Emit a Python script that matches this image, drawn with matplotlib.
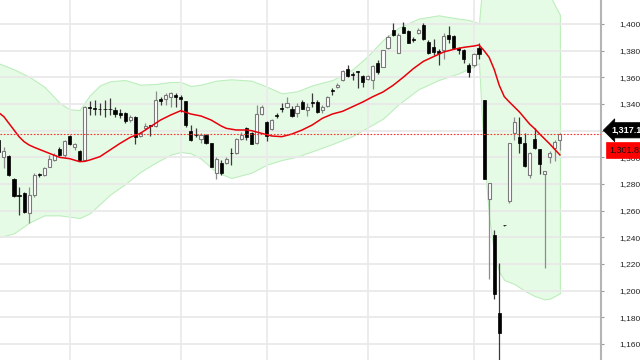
import numpy as np
import matplotlib
matplotlib.use("Agg")
import matplotlib.pyplot as plt
from matplotlib import transforms
from matplotlib.ticker import FuncFormatter, MultipleLocator

plt.rcParams["font.family"] = ["Liberation Sans", "DejaVu Sans"]

# daily candles, left to right
opens = [1313, 1300, 1301, 1284, 1271, 1273, 1258, 1272, 1287, 1287,
         1293, 1298, 1306, 1302, 1316, 1308, 1305, 1298, 1337.3, 1337,
         1336.2, 1336.3, 1336.3, 1335.5, 1333, 1333, 1328, 1330, 1316, 1322,
         1323.6, 1323.5, 1344, 1343.5, 1345, 1347, 1345.5, 1342, 1320, 1317,
         1314, 1317, 1310.5, 1288, 1296, 1296, 1303.2, 1303, 1313.5, 1322,
         1318, 1310.5, 1332.5, 1326.5, 1321, 1331.2, 1336.8, 1338, 1336.5, 1333.5,
         1341.5, 1335.5, 1341.2, 1341.5, 1335.5, 1338.5, 1350, 1352.5, 1358, 1366,
         1362.2, 1364.2, 1361, 1358.5, 1358, 1370.5, 1368, 1382, 1395.5, 1378.5,
         1397.5, 1395, 1388.2, 1393, 1399.25, 1386.75, 1382.5, 1380, 1380.5, 1391.5,
         1391, 1381.75, 1380.5, 1369, 1369, 1381.75, 1343, 1269, 1241.75, 1183,
         1249.2, 1267.5, 1318.5, 1315, 1310.5, 1286.75, 1313.5, 1306, 1287.5, 1300.5,
         1306.75, 1313]
highs = [1316, 1307.5, 1302, 1284.25, 1278, 1274.25, 1278, 1288, 1288, 1293,
         1301.75, 1303, 1307.5, 1313, 1316.75, 1310.5, 1305.5, 1338.5, 1342, 1343,
         1340.5, 1343, 1344.25, 1338, 1336, 1334.25, 1331.75, 1331, 1319.25, 1325.5,
         1324.25, 1350, 1345.5, 1348.5, 1349.25, 1348, 1346.75, 1342.5, 1324.25, 1321.75,
         1318, 1317.5, 1311, 1300.5, 1298, 1300.5, 1306.75, 1314.25, 1319.25, 1322.5,
         1319.25, 1339.25, 1339.25, 1327.5, 1328.5, 1333, 1341, 1345.5, 1338.5, 1340.5,
         1343, 1340.5, 1348, 1343, 1339.25, 1346, 1352, 1355.5, 1365.5, 1369.25,
         1364.25, 1365, 1361.75, 1361.75, 1369.25, 1373, 1380.5, 1391.75, 1400.5, 1393,
         1401.75, 1395.5, 1390.5, 1396.75, 1400.5, 1388, 1388.5, 1381, 1393, 1398.5,
         1391.75, 1383, 1381, 1370.5, 1378, 1385.5, 1343, 1281, 1245.5, 1220.5,
         1249.5, 1310.5, 1330, 1330, 1318.5, 1304.25, 1321.75, 1306, 1290, 1305,
         1313, 1318.5]
lows = [1302, 1292, 1286, 1270.5, 1257, 1258, 1250.5, 1270.5, 1285.5, 1286,
        1292.5, 1297.5, 1301, 1300.5, 1309.25, 1305.5, 1297.5, 1297.5, 1331.75, 1331.75,
        1331.75, 1330.5, 1331.75, 1330.5, 1329.25, 1325.5, 1326.75, 1310, 1315, 1320.5,
        1316, 1323, 1339.25, 1339.25, 1338, 1338, 1334.25, 1323, 1312.5, 1315,
        1310.5, 1310, 1292.5, 1283.5, 1286.75, 1295, 1294.25, 1302.5, 1313, 1313,
        1310, 1310, 1331.75, 1312.5, 1320.5, 1329.25, 1334.25, 1336.75, 1330, 1330.5,
        1336, 1331, 1338, 1333.5, 1333.5, 1338, 1347, 1351.75, 1357.5, 1360.5,
        1358, 1351.75, 1352.5, 1358, 1351, 1362.5, 1367.5, 1381, 1391, 1378,
        1393, 1385.5, 1386.75, 1392.5, 1388, 1377.5, 1376.75, 1369.25, 1373.5, 1385.5,
        1381, 1377.5, 1370.5, 1360, 1368, 1374, 1283.5, 1208.5, 1193.5, 1140,
        1248.5, 1265.5, 1313, 1303.5, 1293, 1284.25, 1306, 1287.5, 1216.75, 1296,
        1297.5, 1305.5]
closes = [1304, 1305, 1287, 1271, 1271, 1259, 1272, 1287, 1287, 1292,
          1299, 1302, 1302, 1312, 1310, 1310, 1298, 1338, 1337, 1336,
          1336, 1336, 1336, 1332.5, 1332, 1327, 1330.5, 1315, 1318, 1323.5,
          1323.4, 1343, 1342.5, 1347, 1348.5, 1345.5, 1343.5, 1324, 1313, 1316.5,
          1317, 1310.5, 1293, 1298.5, 1288.5, 1298.5, 1303, 1313.5, 1317, 1315.5,
          1310, 1332.5, 1338, 1316, 1328, 1331, 1336.5, 1341, 1331, 1338.5,
          1336.5, 1338, 1341, 1334, 1338, 1345, 1349.7, 1354, 1365, 1361,
          1362, 1364, 1356.5, 1361, 1368.5, 1364, 1380.5, 1390.5, 1391.5, 1392,
          1393, 1385.5, 1388, 1395.5, 1388.5, 1378, 1379.25, 1378.5, 1391, 1389,
          1381.75, 1380.5, 1374, 1364, 1377.5, 1377.5, 1283.5, 1281, 1197.5, 1168.5,
          1249, 1310.5, 1326.25, 1311, 1293.5, 1303.5, 1306.75, 1295, 1290, 1303.5,
          1311.75, 1317.18]

# moving average, read at these candle numbers
ma_idx = [0, 1, 2, 3, 4, 5, 6, 7, 8, 10, 12, 14, 16, 17, 18, 20, 22, 24, 26, 28,
          30, 32, 34, 36, 38, 40, 42, 44, 45, 47, 49, 50, 52, 54, 56, 58, 60, 62, 64, 66,
          68, 70, 72, 74, 76, 78, 80, 82, 84, 86, 88, 90, 92, 94, 95, 96, 97, 98, 99, 100,
          101, 103, 105, 106, 107, 109, 111]
ma_val = [1333.5, 1330.5, 1325.5, 1320.5, 1315.5, 1311.75, 1309.25, 1307.5, 1306, 1303,
          1300, 1299, 1296.75, 1297, 1298, 1300.5, 1305.5, 1310.5, 1315, 1318,
          1323, 1328, 1331.75, 1335, 1332.5, 1331, 1328, 1323.5, 1321.75, 1320.5,
          1320.5, 1320, 1318, 1316, 1315.5, 1317.5, 1320.5, 1324.25, 1329.25, 1332.5,
          1334.5, 1338, 1341.5, 1345.5, 1349, 1354, 1360, 1366.5, 1372, 1375.5,
          1379, 1381, 1382.5, 1383.5, 1384.25, 1380, 1375, 1366, 1354, 1345.5,
          1341.5, 1334, 1325, 1321.5, 1317.5, 1310, 1301.82]

# envelope band, read at these candle numbers
band_idx = [0, 3, 6, 9, 12, 14, 16, 18, 20, 22, 25, 28, 31, 34, 36, 38, 40, 43, 46, 50,
            53, 56, 59, 62, 66, 70, 73, 76, 79, 83, 87, 91, 93, 95, 96, 97, 98, 99, 100, 102,
            104, 106, 108, 109, 110, 111]
band_up = [1370.5, 1366, 1360.5, 1353, 1341, 1336, 1335.5, 1346.5, 1354, 1357,
           1358, 1354.5, 1355, 1356.5, 1356.5, 1353.5, 1354.5, 1357.5, 1358.5, 1357.5,
           1353, 1348, 1349.5, 1354, 1358, 1366, 1376, 1388, 1397, 1404,
           1406.5, 1404, 1403, 1400.5, 1445, 1448, 1450, 1452, 1452, 1450,
           1446, 1440, 1432, 1422, 1414, 1407]
band_lo = [1240, 1243, 1251, 1256.5, 1256.5, 1255.5, 1254.5, 1258, 1265, 1272,
           1280, 1289, 1296, 1302, 1304, 1303, 1299, 1289, 1284.5, 1288.5,
           1294.5, 1298, 1300.5, 1304.5, 1310, 1316, 1322.5, 1329, 1339.5, 1351,
           1358, 1363, 1366.5, 1370.5, 1300, 1255, 1228, 1214, 1208, 1205,
           1200, 1196, 1193.5, 1194, 1196, 1198]

month_idx = [14, 36, 53, 73, 94]

fig = plt.figure(figsize=(6.4, 3.6), dpi=100)
ax = fig.add_axes([0, 0, 601 / 640, 1])

idx = np.arange(len(opens))
o, h, l, c = map(np.array, (opens, highs, lows, closes))
up = c > o

ax.fill_between(band_idx, band_lo, band_up, facecolor="#e6fbe6",
                edgecolor="#bdeebd", lw=0.8, zorder=1)
ax.vlines(month_idx, 1100, 1500, color="#ebebeb", lw=1.3, zorder=1.5)

# candles
ax.vlines(idx[up], l[up], h[up], color="#8c8c8c", lw=0.9, zorder=2)
ax.vlines(idx[~up], l[~up], h[~up], color="#3a3a3a", lw=0.9, zorder=2)
body = np.maximum(np.abs(c - o), 0.5)
bottom = np.minimum(o, c)
ax.bar(idx[up], body[up], bottom=bottom[up], width=0.62, facecolor="white",
       edgecolor="#7a7a7a", lw=0.8, zorder=3)
ax.bar(idx[~up], body[~up], bottom=bottom[~up], width=0.62, facecolor="black",
       edgecolor="black", lw=0.5, zorder=3)

ax.plot(ma_idx, ma_val, color="#e8000b", lw=1.1, zorder=4)
ax.axhline(closes[-1], color="#ff3030", lw=0.8, ls=(0, (1.5, 1.5)), zorder=4)

ax.set_xlim(0.237, 119.13)
ax.set_ylim(1148, 1418)
ax.yaxis.set_major_locator(MultipleLocator(20))
ax.yaxis.set_major_formatter(FuncFormatter(lambda v, p: f"{v:,.0f}"))
ax.yaxis.tick_right()
ax.tick_params(axis="y", direction="out", length=2.5, width=0.8, color="#9a9a9a",
               pad=10.5, labelsize=6, labelcolor="#222222")
ax.tick_params(axis="x", bottom=False, labelbottom=False)
ax.grid(axis="y", color="#e9e9e9", lw=1.3)
for s in ("top", "left", "bottom"):
    ax.spines[s].set_visible(False)
ax.spines["right"].set_color("#b4b4b4")
ax.spines["right"].set_linewidth(1.5)

# price tags on the right edge
tr = transforms.blended_transform_factory(ax.transAxes, ax.transData)
ax.text(1.018, closes[-1], f"{closes[-1]:,.2f}", fontsize=6.5, fontweight="bold",
        color="white", va="center", ha="left", clip_on=False, zorder=6,
        transform=transforms.offset_copy(tr, fig, y=3, units="points"),
        bbox=dict(boxstyle="larrow,pad=0.35", fc="black", ec="black", lw=0.5))
ax.text(1.0135, ma_val[-1], f"{ma_val[-1]:,.2f}", fontsize=6.5,
        color="#111111", va="center", ha="left", clip_on=False, zorder=6,
        transform=transforms.offset_copy(tr, fig, y=3.6, units="points"),
        bbox=dict(boxstyle="square,pad=0.35", fc="#ff0000", ec="#ff0000", lw=0.5))

fig.savefig("out.png", dpi=100)
